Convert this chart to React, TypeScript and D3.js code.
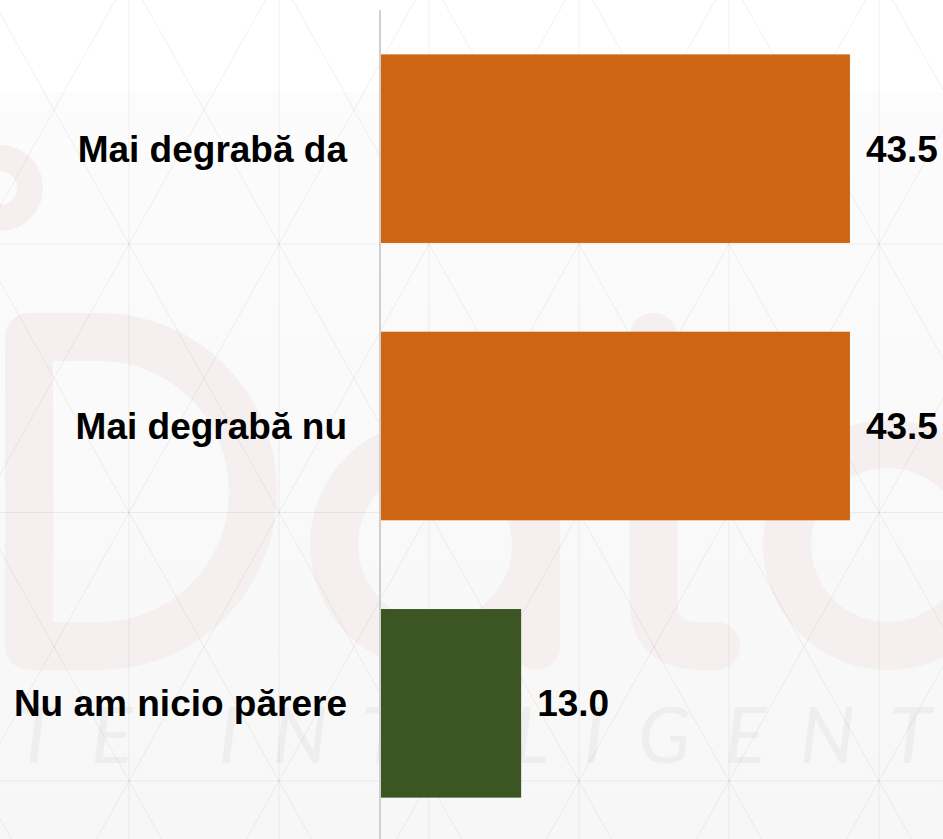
import React from "react";
import * as d3 from "d3";

const categories = ["Mai degrabă da", "Mai degrabă nu", "Nu am nicio părere"];
const values = [43.5, 43.5, 13.0];
const barColors = ["#cd6512", "#cd6512", "#3b5623"];
const valueLabels = values.map((v) => v.toFixed(1));
const watermarkTagline = "DATE INTELIGENTE";

const W = 943;
const H = 839;

export default function App() {
  const x = d3.scaleLinear().domain([0, 50]).range([381, 920]);
  const y = d3
    .scaleBand<string>()
    .domain(categories)
    .range([10, 842])
    .paddingInner(0.32)
    .paddingOuter(0.16);

  // watermark grid (triangular lattice)
  const gx0 = 129, gdx = 150, gy0 = 244, gdy = 268.5;
  const slope = gdy / gdx;
  const vLines = d3.range(-1, 7).map((k) => gx0 + k * gdx);
  const hLines = d3.range(-1, 4).map((k) => gy0 + k * gdy);
  const diagPts = d3.range(-12, 16).map((k) => gx0 + k * gdx);
  const yTop = -400, yBot = 1300;

  const ink = "#f5efef";
  const sw = 48;

  return (
    <svg
      width={W}
      height={H}
      style={{ position: "absolute", left: 0, top: 0, background: "#ffffff" }}
      fontFamily="'Liberation Sans', Arial, sans-serif"
    >
      <defs>
        <linearGradient id="wmbg" x1="0" y1="0" x2="0" y2="1">
          <stop offset="0" stopColor="#fcfcfc" />
          <stop offset="1" stopColor="#f7f7f7" />
        </linearGradient>
      </defs>
      <rect x={0} y={0} width={W} height={H} fill="#ffffff" />
      <rect x={0} y={92} width={W} height={H - 92} fill="url(#wmbg)" />

      {/* watermark logo */}
      <g fill="none" stroke={ink} strokeWidth={sw} strokeLinecap="round" strokeLinejoin="round">
        <circle cx={0} cy={188} r={30} strokeWidth={26} />
        <path d="M 29 337 L 29 646 L 100 646 A 153 154.5 0 0 0 100 337 Z" />
        <circle cx={435} cy={545} r={101} />
        <path d="M 536 440 L 536 646" />
        <path d="M 653.5 337 L 653.5 600 Q 653.5 646 700 646 L 716 646" />
        <path d="M 610 440 L 710 440" />
        <circle cx={888} cy={545} r={101} />
        <path d="M 989 440 L 989 646" />
      </g>
      <text
        x={-150}
        y={763}
        fontFamily="Lato, 'Open Sans', sans-serif"
        fontStyle="italic"
        fontWeight={400}
        fontSize={78}
        letterSpacing={33.5}
        fill="#eeeeee"
      >
        {watermarkTagline}
      </text>

      <g stroke="#000" strokeOpacity={0.06} strokeWidth={1}>
        {vLines.map((vx, i) => (
          <line key={"v" + i} x1={vx} x2={vx} y1={0} y2={H} />
        ))}
        {hLines.map((hy, i) => (
          <line key={"h" + i} x1={0} x2={W} y1={hy} y2={hy} />
        ))}
        {diagPts.map((px, i) => (
          <g key={"d" + i}>
            <line
              x1={px + (yTop - gy0) / slope}
              y1={yTop}
              x2={px + (yBot - gy0) / slope}
              y2={yBot}
            />
            <line
              x1={px - (yTop - gy0) / slope}
              y1={yTop}
              x2={px - (yBot - gy0) / slope}
              y2={yBot}
            />
          </g>
        ))}
      </g>

      {/* bars */}
      {categories.map((c, i) => (
        <rect
          key={c}
          x={x(0)}
          y={y(c)}
          width={x(values[i]) - x(0)}
          height={y.bandwidth()}
          fill={barColors[i]}
        />
      ))}

      {/* axis line */}
      <line x1={x(0) - 1} x2={x(0) - 1} y1={10} y2={H} stroke="#cfcfcf" strokeWidth={2} />

      {/* category labels */}
      {categories.map((c) => (
        <text
          key={"l" + c}
          x={347}
          y={(y(c) as number) + y.bandwidth() / 2}
          dy="0.35em"
          textAnchor="end"
          fontSize={37}
          fontWeight="bold"
          fill="#000"
        >
          {c}
        </text>
      ))}

      {/* value labels */}
      {categories.map((c, i) => (
        <text
          key={"v" + c}
          x={x(values[i]) + 16}
          y={(y(c) as number) + y.bandwidth() / 2}
          dy="0.35em"
          textAnchor="start"
          fontSize={37}
          fontWeight="bold"
          fill="#000"
        >
          {valueLabels[i]}
        </text>
      ))}
    </svg>
  );
}
